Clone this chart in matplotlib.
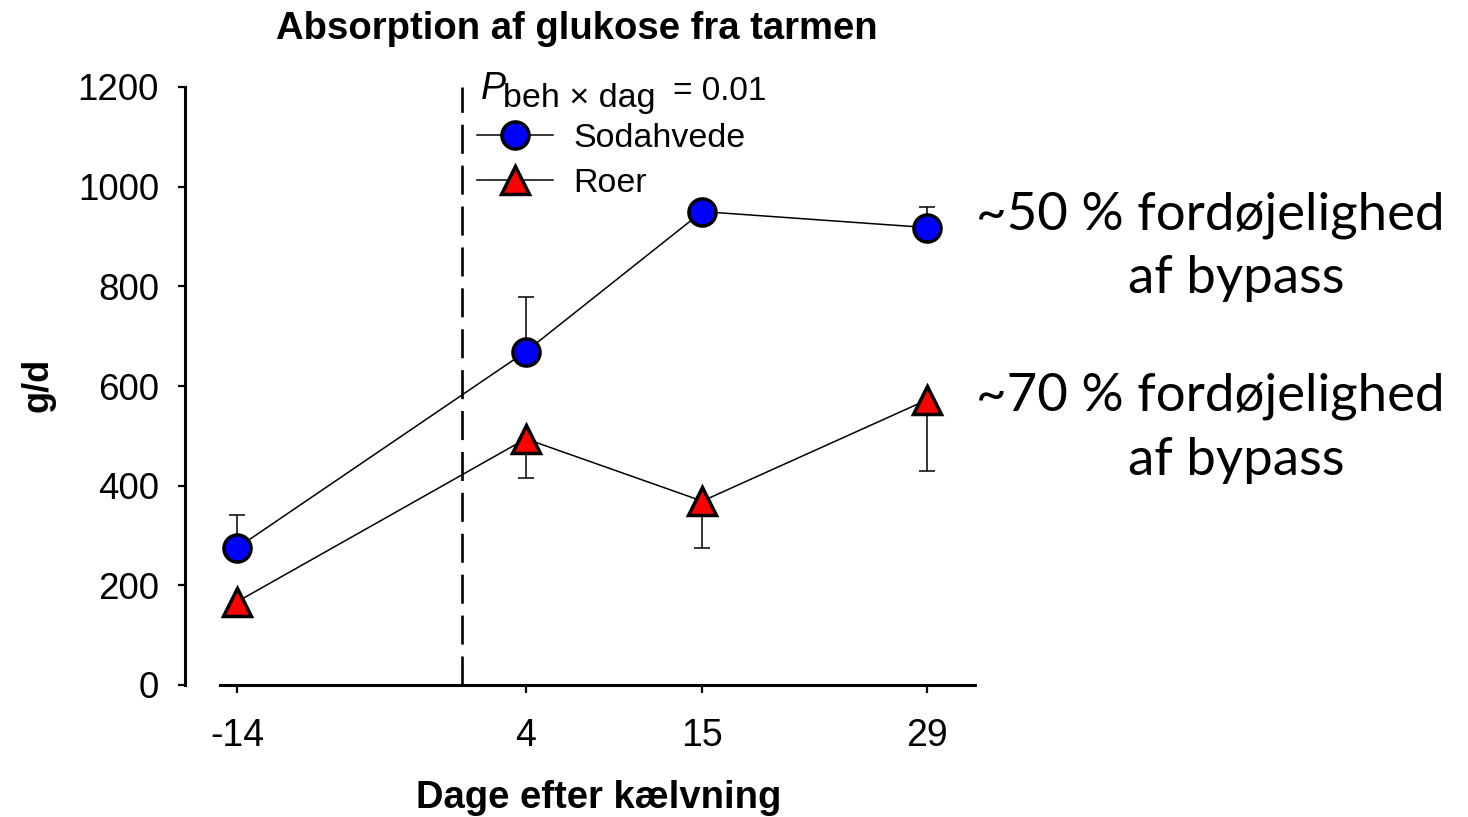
import matplotlib.pyplot as plt
import numpy as np

# data
days = [-14, 4, 15, 29]
day_labels = ['-14', '4', '15', '29']
soda = [275, 669, 950, 918]
soda_err_up = [66, 110, 0, 42]
roer = [167, 494, 369, 572]
roer_err_down = [0, 78, 94, 142]
yticks = [0, 200, 400, 600, 800, 1000, 1200]

W, H = 1468, 817
plt.rcParams['font.family'] = ['Liberation Sans', 'DejaVu Sans']
fig = plt.figure(figsize=(W / 100, H / 100), dpi=100)


def px(x, y):
    # pixel position (from top left) -> figure fraction
    return x / W, 1 - y / H


ax = fig.add_axes([220 / W, 1 - 685 / H, (975 - 220) / W, (685 - 87) / H])
ax.set_xlim(-15.06, 32)
ax.set_ylim(0, 1200)

# series
ax.errorbar(days, soda, yerr=[np.zeros(4), soda_err_up], fmt='none',
            ecolor='black', elinewidth=1.1, capsize=6, capthick=1.1, zorder=2)
ax.errorbar(days, roer, yerr=[roer_err_down, np.zeros(4)], fmt='none',
            ecolor='black', elinewidth=1.1, capsize=6, capthick=1.1, zorder=2)
l1, = ax.plot(days, soda, '-', color='black', lw=1.1, marker='o', ms=19.5,
              mfc='#0000ff', mec='black', mew=2.5, zorder=3)
l2, = ax.plot(days, roer, '-', color='black', lw=1.1, marker='^', ms=20,
              mfc='#ff0000', mec='black', mew=2.5, zorder=3)

# vertical dashed line at day 0
ax.axvline(0, color='black', lw=1.9, dashes=(11, 4.5), zorder=1)

# spines
for s in ['top', 'right']:
    ax.spines[s].set_visible(False)
ax.spines['left'].set_position(('outward', 25))
ax.spines['left'].set_linewidth(2.2)
ax.spines['bottom'].set_linewidth(2.2)

ax.set_xticks(days)
ax.set_xticklabels(day_labels, fontsize=27)
ax.set_yticks(yticks)
ax.set_yticklabels([str(v) for v in yticks], fontsize=26.5)
ax.tick_params(axis='y', length=5, width=1.6, pad=14)
ax.tick_params(axis='x', length=6, width=1.6, pad=18)

# legend
leg = ax.legend([l1, l2], ['Sodahvede', 'Roer'], loc='upper left',
                bbox_to_anchor=px(477, 123),
                bbox_transform=fig.transFigure, frameon=False, fontsize=24.5,
                handlelength=2.23, handletextpad=0.6, labelspacing=0.4,
                borderpad=0, borderaxespad=0)

# P text
fig.text(*px(481, 89), 'P', fontsize=27, style='italic', va='center', ha='left')
fig.text(*px(503, 99), 'beh \u00d7 dag', fontsize=24.5, va='center', ha='left')
fig.text(*px(673, 91), '= 0.01', fontsize=24, va='center', ha='left')

# titles
fig.text(*px(577, 29), 'Absorption af glukose fra tarmen', fontsize=27.5,
         fontweight='bold', ha='center', va='center')
fig.text(*px(599, 798), 'Dage efter k\u00e6lvning', fontsize=27.5,
         fontweight='bold', ha='center', va='center')
fig.text(*px(38, 385), 'g/d', fontsize=26, fontweight='bold', rotation=90,
         ha='center', va='center')

# annotations on the right
ann = dict(fontsize=38, ha='left', va='center', family=['Lato', 'DejaVu Sans'])
fig.text(*px(976, 215), '~50 % ford\u00f8jelighed', **ann)
fig.text(*px(1128, 279), 'af bypass', **ann)
fig.text(*px(976, 396), '~70 % ford\u00f8jelighed', **ann)
fig.text(*px(1128, 460), 'af bypass', **ann)

fig.savefig('out.png', dpi=100)
